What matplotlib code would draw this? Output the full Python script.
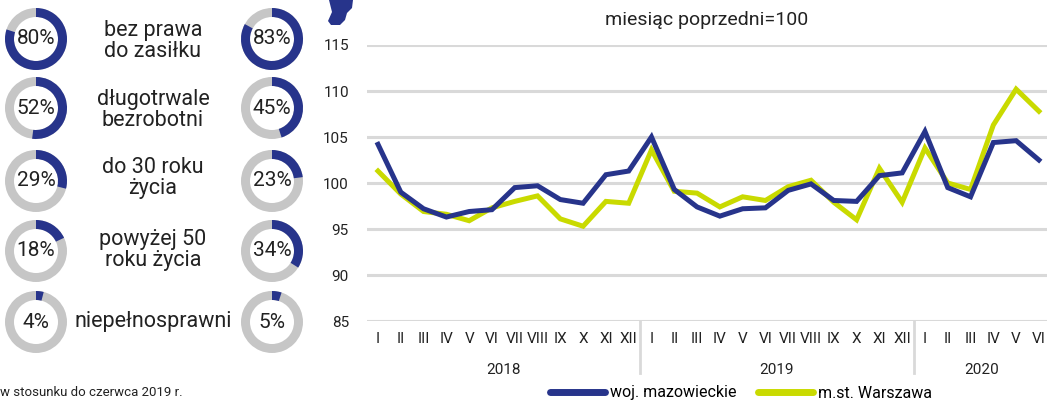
import numpy as np
import matplotlib.pyplot as plt
from matplotlib.patches import Wedge, Polygon

plt.rcParams['font.family'] = ['Roboto', 'DejaVu Sans']

NAVY = "#27348B"
LIME = "#C9DA00"
RING = "#C6C6C6"
GRID = "#D9D9D9"
TXT = "#222222"

# monthly index, previous month = 100
months = ["I", "II", "III", "IV", "V", "VI", "VII", "VIII", "IX", "X", "XI", "XII"]
month_labels = months + months + months[:6]
years = ["2018", "2019", "2020"]

mazowieckie = [104.2, 99.0, 97.2, 96.3, 96.9, 97.1, 99.5, 99.7, 98.2, 97.8, 100.9, 101.3,
               105.0, 99.3, 97.4, 96.4, 97.2, 97.3, 99.2, 99.9, 98.1, 98.0, 100.8, 101.1,
               105.6, 99.5, 98.5, 104.4, 104.6, 102.5]
warszawa = [101.3, 98.8, 96.9, 96.6, 95.9, 97.3, 98.0, 98.6, 96.1, 95.3, 98.0, 97.8,
            103.6, 99.1, 98.9, 97.4, 98.5, 98.1, 99.6, 100.3, 97.9, 96.0, 101.6, 97.9,
            103.8, 100.0, 99.3, 106.3, 110.2, 107.8]

# structure shares (%), left = woj. mazowieckie, right = m.st. Warszawa
groups = ["bez prawa\ndo zasiłku", "długotrwale\nbezrobotni", "do 30 roku\nżycia",
          "powyżej 50\nroku życia", "niepełnosprawni"]
share_left = [80, 52, 29, 18, 4]
share_right = [83, 45, 23, 34, 5]

W, H = 1047, 401
fig = plt.figure(figsize=(W / 100, H / 100), dpi=100)

# ---- donuts (pixel coordinates, y up)
dax = fig.add_axes([0, 0, 320 / W, 1])
dax.set_xlim(0, 320)
dax.set_ylim(0, H)
dax.axis("off")

row_y = [39, 108, 181, 251, 322]
label_y = [41, 110, 178, 250, 322]
r_out, ring_w = 31, 9


def donut(cx, cy, pct):
    y = H - cy
    dax.add_patch(Wedge((cx, y), r_out, 0, 360, width=ring_w, color=RING, lw=0))
    dax.add_patch(Wedge((cx, y), r_out, 90 - pct * 3.6, 90, width=ring_w, color=NAVY, lw=0))
    dax.text(cx, y, f"{pct}%", ha="center", va="center", fontsize=15, color=TXT)


for i, g in enumerate(groups):
    donut(36, row_y[i], share_left[i])
    donut(272, row_y[i], share_right[i])
    dax.text(153, H - label_y[i], g, ha="center", va="center", fontsize=15.5,
             color=TXT, linespacing=1.0)

fig.text(0, 1 - 393 / H, "w stosunku do czerwca 2019 r.", fontsize=9.5, color=TXT,
         va="center", ha="left")

# small icon at top
icon = [(329, 0), (353, 0), (352, 8), (347, 13), (345, 20), (340, 25), (331, 25),
        (328, 21), (332, 12)]
fig.patches.append(Polygon([(x / W, 1 - y / H) for x, y in icon], closed=True,
                           transform=fig.transFigure, color=NAVY, lw=0))

# ---- line chart
x0, x_step = 378, 22.79
ax = fig.add_axes([367 / W, (H - 321) / H, (W - 367) / W, 276 / H])
ax.set_xlim(-(378 - 367) / x_step, (W - x0) / x_step)
ax.set_ylim(85, 115)
ax.set_yticks(np.arange(85, 116, 5))
ax.grid(axis="y", color=GRID, lw=2.2)
ax.set_axisbelow(True)
for s in ax.spines.values():
    s.set_visible(False)

x = np.arange(len(month_labels))
ax.plot(x, mazowieckie, color=NAVY, lw=3.6, solid_joinstyle="miter", label="woj. mazowieckie")
ax.plot(x, warszawa, color=LIME, lw=3.6, solid_joinstyle="miter", label="m.st. Warszawa")
ax.lines[0].set_zorder(3)

ax.set_xticks(x)
ax.set_xticklabels(month_labels, fontsize=11, color=TXT)
ax.tick_params(axis="x", length=0, pad=8)
ax.tick_params(axis="y", length=0, pad=13, labelsize=11, labelcolor=TXT)

for sep in [11.5, 23.5]:
    ax.plot([sep, sep], [85, 85 - 52 / 9.2], color=GRID, lw=2, clip_on=False)

for yr, xc in zip(years, [5.5, 17.5, 26.5]):
    ax.text(xc, 85 - 49 / 9.2, yr, ha="center", va="center", fontsize=11, color=TXT)

ax.text(0.5, 1 + 25 / 276, "miesiąc poprzedni=100", transform=ax.transAxes,
        ha="center", va="center", fontsize=14, color=TXT)

leg = fig.legend(loc="center", bbox_to_anchor=(741 / W, 1 - 393 / H), ncol=2,
                 frameon=False, handlelength=3.4, handletextpad=0.3, columnspacing=1.4,
                 fontsize=11.5, borderaxespad=0)
for h in leg.get_lines():
    h.set_linewidth(5)
    h.set_solid_capstyle("round")

fig.savefig("out.png", dpi=100)
